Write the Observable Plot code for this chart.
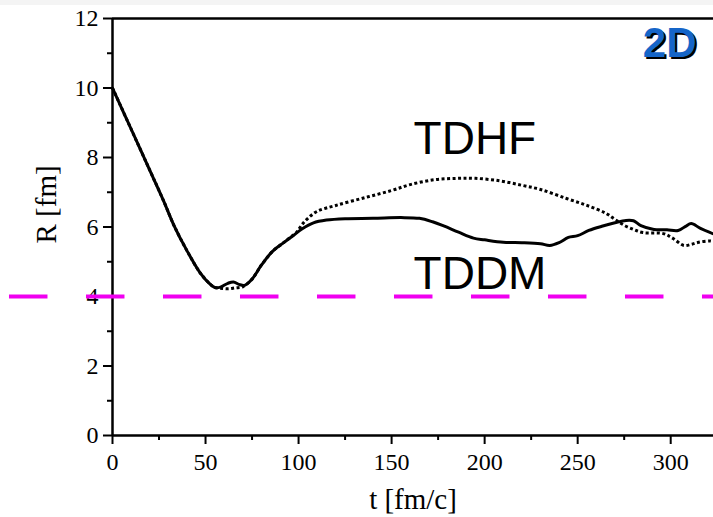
<!DOCTYPE html>
<html>
<head>
<meta charset="utf-8">
<script src="https://cdn.jsdelivr.net/npm/d3@7"></script>
<script src="https://cdn.jsdelivr.net/npm/@observablehq/plot@0.6"></script>
<style>
  html, body { margin: 0; padding: 0; background: white; color: black; }
  #band { height: 5px; background: #f4f4f4; }
  #chart svg { display: block; }
  .tag text { text-shadow: 2px 2px 0 #000; }
</style>
</head>
<body>
<div id="band"></div>
<div id="chart"></div>
<script>
// TDDM (solid)
const tddmT = [0,10,20,27.4,33,40,47,52,55,58,62,65,68,71,75,80,86,92,97,102,108,115,125,140,155,165,172,178,186,194,200,210,220,230,235,240,245,250,256,263,270,276,280,284,291,298,304,308,311,316,323];
const tddmR = [10,8.82,7.64,6.76,6.05,5.32,4.69,4.38,4.26,4.27,4.38,4.42,4.35,4.32,4.5,4.9,5.3,5.55,5.75,5.95,6.12,6.2,6.24,6.25,6.27,6.25,6.15,6.03,5.85,5.68,5.63,5.56,5.55,5.52,5.47,5.55,5.7,5.75,5.9,6.02,6.12,6.19,6.18,6.04,5.93,5.92,5.9,6.02,6.1,5.96,5.8];
// TDHF (dotted)
const tdhfT = [0,10,20,27.4,33,40,47,52,55,58,62,66,70,75,80,86,92,96,99,102,105,110,120,136,150,160,173,185,195,208,220,230,244,255,265,270,275,280,285,296,301,307,311,315,321,323];
const tdhfR = [10,8.82,7.64,6.76,6.05,5.32,4.69,4.38,4.26,4.24,4.22,4.25,4.28,4.5,4.9,5.3,5.55,5.72,5.85,6.08,6.25,6.45,6.62,6.85,7.05,7.22,7.36,7.4,7.4,7.33,7.2,7.08,6.82,6.62,6.4,6.22,6.05,5.93,5.84,5.81,5.68,5.47,5.5,5.56,5.6,5.58];
// reference line
const refR = [4];
const refExtent = [-60.2, 323];
// labels
const seriesLabels = ["TDHF", "TDDM"];
const labelT = [161.8, 161.8];
const labelR = [8.53, 4.63];
const xMajor = [0,50,100,150,200,250,300];
const xMinor = [25,75,125,175,225,275];
const yMajor = [0,2,4,6,8,10,12];
const yMinor = [1,3,5,7,9,11];
const xLabel = "t [fm/c]";
const yLabel = "R [fm]";
const panelTag = "2D";

const tddm = tddmT.map((t, i) => ({t, R: tddmR[i]}));
const tdhf = tdhfT.map((t, i) => ({t, R: tdhfR[i]}));
const labels = seriesLabels.map((s, i) => ({s, t: labelT[i], R: labelR[i]}));

const serif = "'Liberation Serif', 'Times New Roman', serif";
const sans = "'Liberation Sans', Arial, sans-serif";

const plot = Plot.plot({
  width: 713,
  height: 512,
  marginLeft: 112,
  marginRight: 0,
  marginTop: 13,
  marginBottom: 82,
  style: {background: "white", fontFamily: serif, fontSize: "24px", color: "black", overflow: "visible"},
  x: {domain: [0, 323]},
  y: {domain: [0, 12]},
  marks: [
    Plot.axisY({ticks: yMajor, tickSize: 9, tickPadding: 5, tickFormat: d => String(d), label: null, strokeWidth: 2, fontSize: 24}),
    Plot.axisY({ticks: yMinor, tickSize: 5, text: null, label: null, strokeWidth: 2}),
    Plot.axisX({ticks: xMajor, tickSize: 9, tickPadding: 8, tickFormat: d => String(d), label: null, strokeWidth: 2, fontSize: 24}),
    Plot.axisX({ticks: xMinor, tickSize: 5, text: null, label: null, strokeWidth: 2}),
    Plot.ruleX([0], {strokeWidth: 2.5}),
    Plot.ruleY([0], {strokeWidth: 2.5}),
    Plot.ruleY([12], {strokeWidth: 2.5}),
    Plot.line(tdhf, {x: "t", y: "R", curve: "catmull-rom", strokeWidth: 3, strokeDasharray: "3,2.5", strokeLinecap: "butt", stroke: "black"}),
    Plot.line(tddm, {x: "t", y: "R", curve: "catmull-rom", strokeWidth: 3, stroke: "black"}),
    Plot.text(labels, {x: "t", y: "R", text: "s", textAnchor: "start", lineAnchor: "middle", fontFamily: sans, fontSize: 46, fill: "black"}),
    Plot.ruleY(refR, {x1: refExtent[0], x2: refExtent[1], stroke: "#f000f0", strokeWidth: 4, strokeDasharray: "38.5,38.5", strokeDashoffset: 68, clip: false}),
    Plot.text([xLabel], {frameAnchor: "bottom", dy: 64, lineAnchor: "middle", fontFamily: serif, fontSize: 29, fill: "black"}),
    Plot.text([yLabel], {frameAnchor: "left", dx: -66, dy: 16.5, rotate: -90, lineAnchor: "middle", fontFamily: serif, fontSize: 29, fill: "black"}),
    Plot.text([panelTag], {frameAnchor: "top-right", dx: -17, dy: 25, textAnchor: "end", lineAnchor: "middle", fontFamily: sans, fontWeight: "bold", fontSize: 42, fill: "#1565c8", className: "tag"})
  ]
});
document.getElementById("chart").appendChild(plot);
</script>
</body>
</html>
